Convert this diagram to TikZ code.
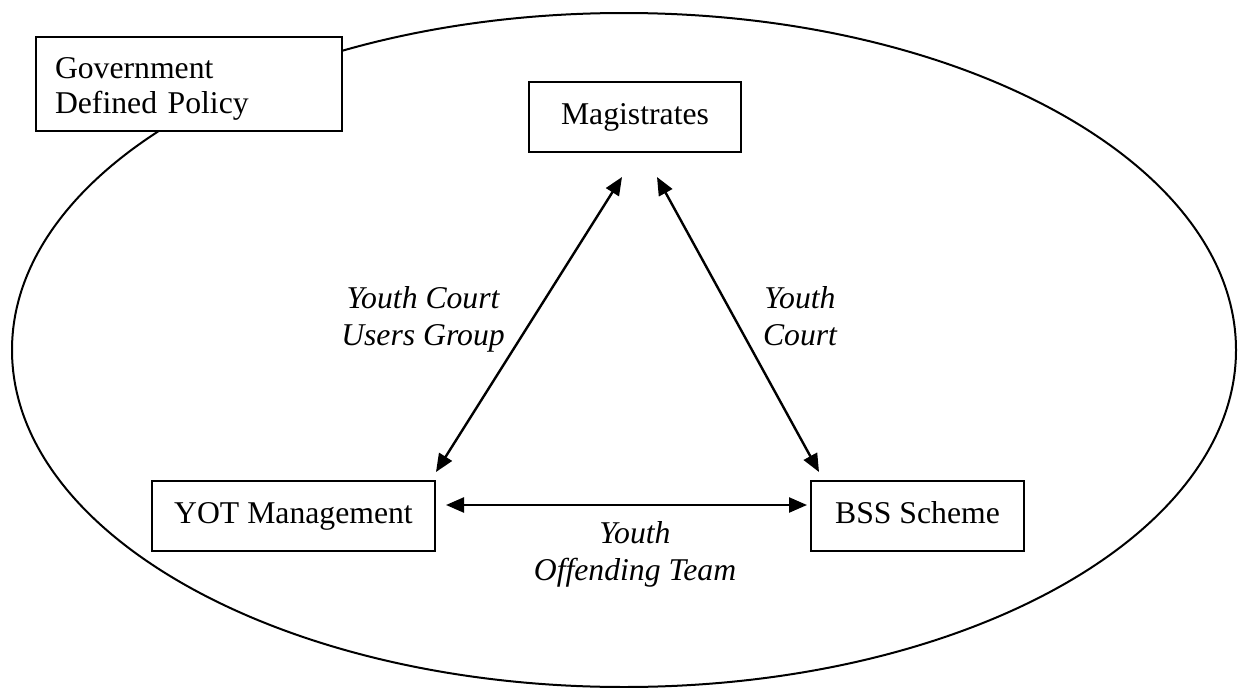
\documentclass[tikz,border=0pt]{standalone}
\usepackage{fontspec}
\setmainfont{Liberation Serif}
\usetikzlibrary{arrows.meta,calc}

\tikzset{
  box/.style={draw, line width=2pt, fill=white, inner sep=0pt,
              font=\fontsize{31.7}{37}\selectfont},
  onebox/.style={box, text height=21pt, text depth=7pt},
  lbl/.style={align=center, inner sep=0pt,
              font=\fontsize{31.7}{37}\selectfont\itshape},
  link/.style={line width=2.4pt,
               {Triangle[length=18pt,width=15pt]}-{Triangle[length=18pt,width=15pt]}}
}

\begin{document}
\begin{tikzpicture}[x=1pt,y=-1pt]
  \useasboundingbox (0,0) rectangle (1245,688);

  % policy boundary
  \draw[line width=2pt] (624,350) ellipse [x radius=612, y radius=337];

  % boxes
  \node[box, font=\fontsize{31.7}{35}\selectfont,
        minimum width=306pt, minimum height=94pt, anchor=north west,
        text width=268pt, align=left, inner xsep=19pt] (gov) at (35,36)
        {\rule{0pt}{30pt}Government\\Defined Policy};
  \node[onebox, minimum width=212pt, minimum height=70pt] (mag) at (635,117) {Magistrates};
  \node[onebox, minimum width=283pt, minimum height=70pt] (yot) at (293.5,516) {YOT Management};
  \node[onebox, minimum width=213pt, minimum height=70pt] (bss) at (917.5,516) {BSS Scheme};

  % connector end points
  \coordinate (magL) at ([shift={(-13,24)}]mag.south);
  \coordinate (magR) at ([shift={(22,24)}]mag.south);
  \coordinate (yotT) at ([shift={(0,-8)}]yot.north east);
  \coordinate (bssT) at ([shift={(9,-8)}]bss.north west);
  \coordinate (yotE) at ([shift={(10,-11)}]yot.east);
  \coordinate (bssW) at ([shift={(-3,-11)}]bss.west);

  \draw[link] (magL) -- (yotT);
  \draw[link] (magR) -- (bssT);
  \draw[link] (yotE) -- (bssW);

  % connector labels
  \node[lbl] (lycug) at (423,319) {Youth Court\\Users Group};
  \node[lbl] (lyc) at (800,316) {Youth\\Court};
  \node[lbl] (lyot) at (635,554) {Youth\\Offending Team};
\end{tikzpicture}
\end{document}
